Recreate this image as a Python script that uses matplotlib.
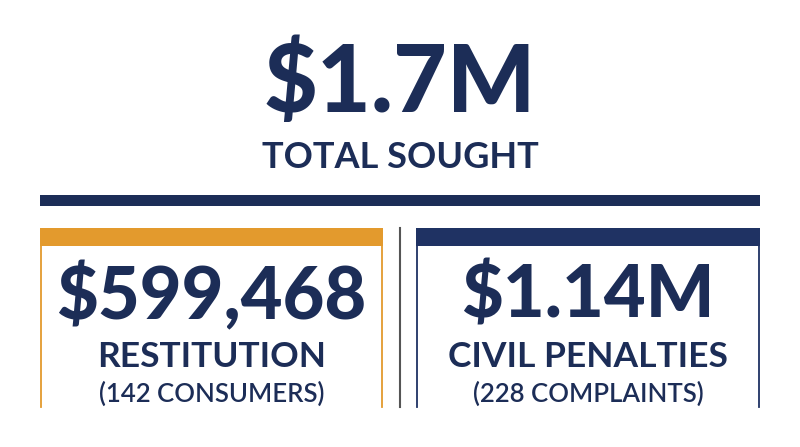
import matplotlib
matplotlib.use("Agg")
import matplotlib.pyplot as plt
from matplotlib.patches import Rectangle

total_value = "$1.7M"
total_label = "TOTAL SOUGHT"
box_values = ["$599,468", "$1.14M"]
box_labels = ["RESTITUTION", "CIVIL PENALTIES"]
box_subs = ["(142 CONSUMERS)", "(228 COMPLAINTS)"]
box_colors = ["#E39A2D", "#1F3263"]
NAVY = "#1C2D57"

fig = plt.figure(figsize=(8, 4.47), dpi=100)
ax = fig.add_axes([0, 0, 1, 1])
ax.set_xlim(0, 800); ax.set_ylim(447, 0); ax.axis("off")
fam = ["Lato", "DejaVu Sans"]

ax.text(400, 84, total_value, ha="center", va="center", fontsize=67, fontweight="black", color=NAVY, family=fam)
ax.text(400, 158, total_label, ha="center", va="center", fontsize=26, fontweight="bold", color=NAVY, family=fam)
ax.add_patch(Rectangle((40, 195), 720, 11, color=NAVY, lw=0))

boxes = [(40, 383), (416, 760)]
for (x0, x1), v, l, s, c in zip(boxes, box_values, box_labels, box_subs, box_colors):
    ax.add_patch(Rectangle((x0, 228), x1 - x0, 18, color=c, lw=0))
    ax.plot([x0 + 1, x0 + 1], [246, 407], color=c, lw=1.3)
    ax.plot([x1 - 1, x1 - 1], [246, 407], color=c, lw=1.3)
    cx = (x0 + x1) / 2
    ax.text(cx, 297, v, ha="center", va="center", fontsize=52, fontweight="black", color=NAVY, family=fam)
    ax.text(cx, 357, l, ha="center", va="center", fontsize=25.5, fontweight="bold", color=NAVY, family=fam)
    ax.text(cx, 394, s, ha="center", va="center", fontsize=18.5, fontweight="semibold", color=NAVY, family=fam)

ax.plot([400, 400], [228, 407], color="#555555", lw=1.5)
fig.savefig("out.png", dpi=100, facecolor="white")
